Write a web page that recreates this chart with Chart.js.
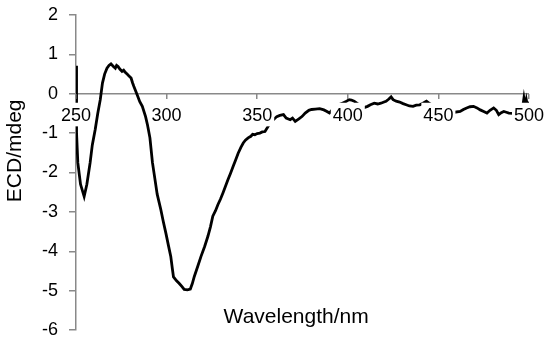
<!DOCTYPE html>
<html>
<head>
<meta charset="utf-8">
<script src="https://cdn.jsdelivr.net/npm/chart.js@4/dist/chart.umd.min.js"></script>
<style>
  html, body { margin: 0; padding: 0; background: #fff; }
  #wrap { width: 550px; height: 347px; }
</style>
</head>
<body>
<div id="wrap"><canvas id="c"></canvas></div>
<script>
// CD spectrum
const wavelength = [
  250, 250.3, 251, 252.5, 254.5, 256, 257.8, 259, 260.6, 262, 263.4, 264.6, 265.8, 267.1, 268.2, 269.3,
  270.5, 271.7, 272.4, 273.2, 274.3, 275.4, 276.3, 277.3, 278.2, 279.1, 280.4, 281.2, 281.9, 283.8,
  285.2, 286.6, 288.4, 289.5, 290.8, 292.2, 293.5, 294.8, 296.8, 298.2, 299.6, 301, 302.3, 303.2,
  303.8, 305.5, 307, 308.5, 309.7, 311.5, 313.1, 314.2, 315.3, 317.2, 319, 321, 322.8, 324.2, 325.5,
  327, 328.3, 329.7, 331.1, 332.5, 333.9, 335.3, 336.7, 338.1, 339.5, 341, 342.3, 343.5, 345, 346.5,
  347.5, 348.7, 350, 351.5, 352.8, 354.3, 357.5, 360.8, 362.5, 364.5, 366, 368.2, 369.5, 371, 373,
  374.7, 376.5, 378.5, 380, 382.1, 384.5, 386.8, 388.5, 389.9, 392, 394.2, 395.5, 397, 399, 400.7,
  402, 403.5, 405, 406.3, 408.5, 410.9, 412.5, 414.6, 416.5, 418.3, 420, 421.1, 422.5, 423.9, 425,
  426.7, 428.6, 430.5, 432.2, 434, 436, 437.8, 439.7, 441.5, 443.4, 444.8, 446.2, 448, 452, 457,
  459, 462, 463.8, 465.6, 467.5, 469.4, 471.3, 473.1, 475, 476.8, 478.5, 480.5, 482, 483.3, 484.7,
  486.1, 487.5, 488.9, 491, 493, 495, 496.5, 497.2, 497.8, 498.5, 499.2, 500
];
const ecd = [
  0.71, -1.0, -1.75, -2.3, -2.61, -2.3, -1.75, -1.3, -0.91, -0.5, -0.15, 0.27, 0.5, 0.65, 0.72, 0.76,
  0.70, 0.65, 0.72, 0.69, 0.62, 0.57, 0.60, 0.54, 0.50, 0.46, 0.40, 0.28, 0.19, -0.03,
  -0.2, -0.32, -0.58, -0.80, -1.12, -1.75, -2.15, -2.55, -2.94, -3.25, -3.54, -3.85, -4.13, -4.45,
  -4.65, -4.75, -4.82, -4.9, -4.97, -4.98, -4.96, -4.82, -4.64, -4.38, -4.13, -3.88, -3.62, -3.38, -3.11,
  -2.97, -2.82, -2.68, -2.52, -2.35, -2.18, -2.02, -1.85, -1.68, -1.51, -1.36, -1.25, -1.18, -1.12, -1.08,
  -1.03, -1.04, -1.01, -1.0, -0.97, -0.96, -0.72, -0.58, -0.55, -0.53, -0.62, -0.66, -0.62, -0.70, -0.64,
  -0.58, -0.49, -0.42, -0.40, -0.39, -0.38, -0.41, -0.45, -0.49, -0.38, -0.28, -0.27, -0.24, -0.2, -0.15,
  -0.16, -0.19, -0.24, -0.28, -0.36, -0.32, -0.28, -0.24, -0.26, -0.24, -0.21, -0.19, -0.14, -0.08, -0.15,
  -0.19, -0.21, -0.25, -0.28, -0.31, -0.32, -0.29, -0.28, -0.24, -0.19, -0.24, -0.28, -0.3, -0.38, -0.42,
  -0.47, -0.45, -0.40, -0.36, -0.33, -0.32, -0.36, -0.41, -0.45, -0.49, -0.42, -0.36, -0.42, -0.53, -0.48,
  -0.45, -0.47, -0.49, -0.5, -0.48, -0.42, -0.35, -0.12, -0.30, -0.15, -0.33, -0.2
];
const xTicks = [250, 300, 350, 400, 450, 500];
const yRange = [-6, 2];
const xTitle = 'Wavelength/nm';
const yTitle = 'ECD/mdeg';

const axisGrey = '#898989';
const family = "'Liberation Sans', Arial, sans-serif";
const tickFont = { family, size: 18 };
const titleFont = { family, size: 21 };

// both titles sit where Excel put them, not centred on the axes
const titlesPlugin = {
  id: 'titles',
  afterDraw(chart) {
    const { ctx, scales } = chart;
    ctx.save();
    ctx.font = `${titleFont.size}px ${family}`;
    ctx.fillStyle = '#000';
    ctx.textAlign = 'center';
    ctx.textBaseline = 'middle';
    ctx.fillText(xTitle, scales.x.getPixelForValue(371.5), scales.y.getPixelForValue(-5.68));
    ctx.translate(15, scales.y.getPixelForValue(-1.45));
    ctx.rotate(-Math.PI / 2);
    ctx.fillText(yTitle, 0, 0);
    ctx.restore();
  }
};

new Chart(document.getElementById('c'), {
  type: 'line',
  data: {
    datasets: [{
      data: wavelength.map((w, i) => ({ x: w, y: ecd[i] })),
      borderColor: '#000',
      borderWidth: 2.8,
      pointRadius: 0,
      tension: 0,
      fill: false
    }]
  },
  options: {
    responsive: true,
    maintainAspectRatio: false,
    animation: false,
    layout: { padding: { top: 15, right: 8, bottom: 17, left: 0 } },
    plugins: { legend: { display: false }, tooltip: { enabled: false } },
    scales: {
      x: {
        type: 'linear',
        position: { y: 0 },
        min: xTicks[0],
        max: xTicks[xTicks.length - 1],
        afterBuildTicks: (s) => { s.ticks = xTicks.map(v => ({ value: v })); },
        border: { display: false },
        grid: { z: 1, drawOnChartArea: false, drawTicks: true, tickLength: 5, tickColor: axisGrey, lineWidth: 1.5 },
        ticks: {
          z: 1, color: '#000', font: tickFont, padding: 6, maxRotation: 0,
          showLabelBackdrop: true, backdropColor: '#fff',
          backdropPadding: { top: 2, bottom: 0, left: 2, right: 2 }
        }
      },
      y: {
        min: yRange[0],
        max: yRange[1],
        afterFit: (s) => { s.width = 76; s.paddingTop = 0; s.paddingBottom = 0; },
        border: { display: true, color: axisGrey, width: 1.5 },
        grid: {
          color: (c) => c.tick && c.tick.value === 0 ? axisGrey : 'rgba(0,0,0,0)',
          lineWidth: 1.5,
          tickLength: 7,
          tickColor: axisGrey
        },
        ticks: { stepSize: 1, color: '#000', font: tickFont, padding: 11 }
      }
    }
  },
  plugins: [titlesPlugin]
});
</script>
</body>
</html>
